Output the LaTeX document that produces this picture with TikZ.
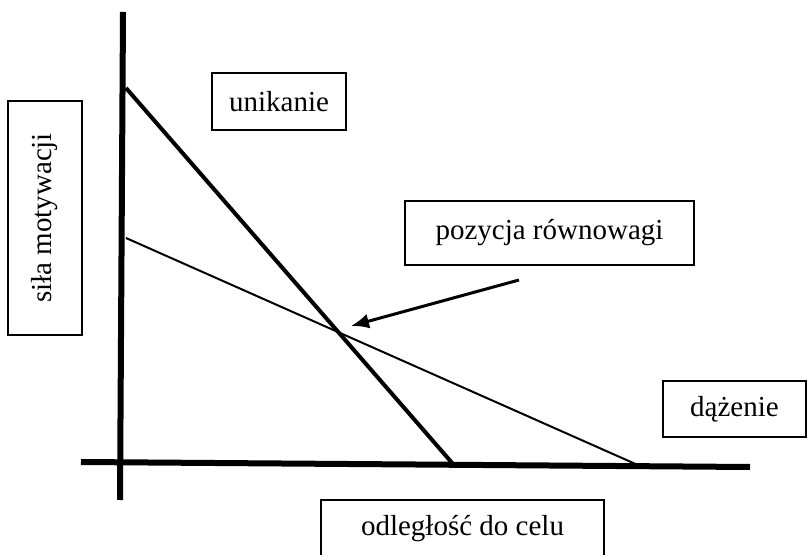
\documentclass[tikz,border=0pt]{standalone}
\usepackage{fontspec}
\setmainfont{Liberation Serif}
\usetikzlibrary{arrows.meta}

\begin{document}
\begin{tikzpicture}[x=0.5pt,y=-0.5pt,
  labelbox/.style={draw,line width=0.75pt,inner sep=0pt,font=\fontsize{14.5}{17}\selectfont},
  axis/.style={line width=3pt},
  strong/.style={line width=2pt},
  weak/.style={line width=1pt}]
  \useasboundingbox (0,0) rectangle (808,555);
  \clip (0,0) rectangle (808,555);
  % axes
  \coordinate (ytop) at (123,12);
  \coordinate (ybot) at (120,500);
  \coordinate (xl) at (81,462);
  \coordinate (xr) at (750,467);
  \draw[axis] (ytop) -- (ybot);
  \draw[axis] (xl) -- (xr);
  % gradients
  \coordinate (unikA) at (126,88);
  \coordinate (unikB) at (453,464);
  \coordinate (dazA) at (126,238);
  \coordinate (dazB) at (640,466);
  \draw[strong] (unikA) -- (unikB);
  \draw[weak] (dazA) -- (dazB);
  % labels
  \node[labelbox,minimum width=67pt,minimum height=28.5pt] (unik) at (279,101.5) {unikanie};
  \node[labelbox,minimum width=144.5pt,minimum height=32pt] (rown) at (549.5,233) {pozycja równowagi};
  \node[labelbox,minimum width=71.5pt,minimum height=28pt] (dazen) at (734.5,409) {dążenie};
  \node[labelbox,minimum width=141.5pt,minimum height=28.5pt] (odl) at (462.5,528.5) {odległość do celu};
  \node[labelbox,rotate=90,minimum width=117pt,minimum height=37pt] (sila) at (45,218) {siła motywacji};
  % arrow
  \coordinate (arrS) at (519,280);
  \coordinate (arrE) at (351,326);
  \draw[line width=1.5pt,-{Latex[length=9pt,width=7.5pt]}] (arrS) -- (arrE);
\end{tikzpicture}
\end{document}
